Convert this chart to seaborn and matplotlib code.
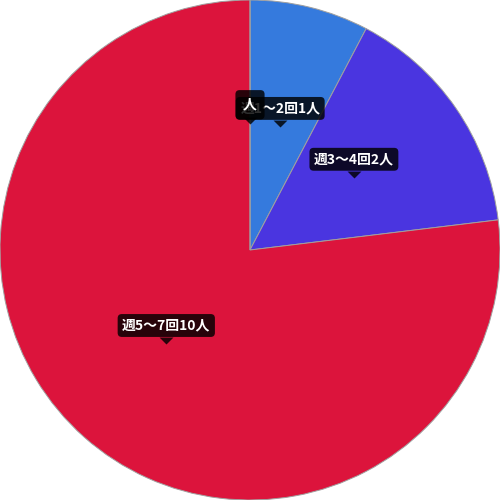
import matplotlib
matplotlib.use("Agg")
import matplotlib.pyplot as plt
import numpy as np
import seaborn as sns

# データ
categories = ['週1～2回', '週3～4回', '週5～7回', '']
counts = [1, 2, 10, 0]
labels = ['週1～2回1人', '週3～4回2人', '週5～7回10人', '人']
colors = ['#357ADD', '#4A35E0', '#DC143C', '#DC143C']

sns.set_theme(style='white')
plt.rcParams['font.family'] = ['Noto Sans CJK JP', 'DejaVu Sans']

fig = plt.figure(figsize=(5, 5), dpi=100)
ax = fig.add_axes([0, 0, 1, 1])
palette = sns.color_palette(colors)
wedges, _ = ax.pie(counts, colors=palette, startangle=90, counterclock=False,
                   radius=1.0, wedgeprops=dict(edgecolor='#a0a0a0', linewidth=0.7))
ax.set_xlim(-1.0, 1.0)
ax.set_ylim(-1.0, 1.0)
ax.set_aspect('equal')
ax.axis('off')

# ツールチップ風ラベル
r = 0.505
for w, lab in zip(wedges, labels):
    mid = np.deg2rad((w.theta1 + w.theta2) / 2)
    x, y = r * np.cos(mid), r * np.sin(mid)
    pad = 0.55 if len(lab) == 1 else 0.32
    ax.plot([x], [y], marker=[(-1, 1), (1, 1), (0, 0)], markersize=10,
            color='black', alpha=0.82, markeredgewidth=0, zorder=5)
    ax.annotate(lab, xy=(x, y), xytext=(0, 19), textcoords='offset pixels',
                ha='center', va='center', color='white', fontsize=10,
                fontweight='bold', zorder=6,
                bbox=dict(boxstyle=f'round,pad={pad},rounding_size=0.3',
                          fc=(0, 0, 0, 0.82), ec='none'))

fig.savefig('out.png', dpi=100)
